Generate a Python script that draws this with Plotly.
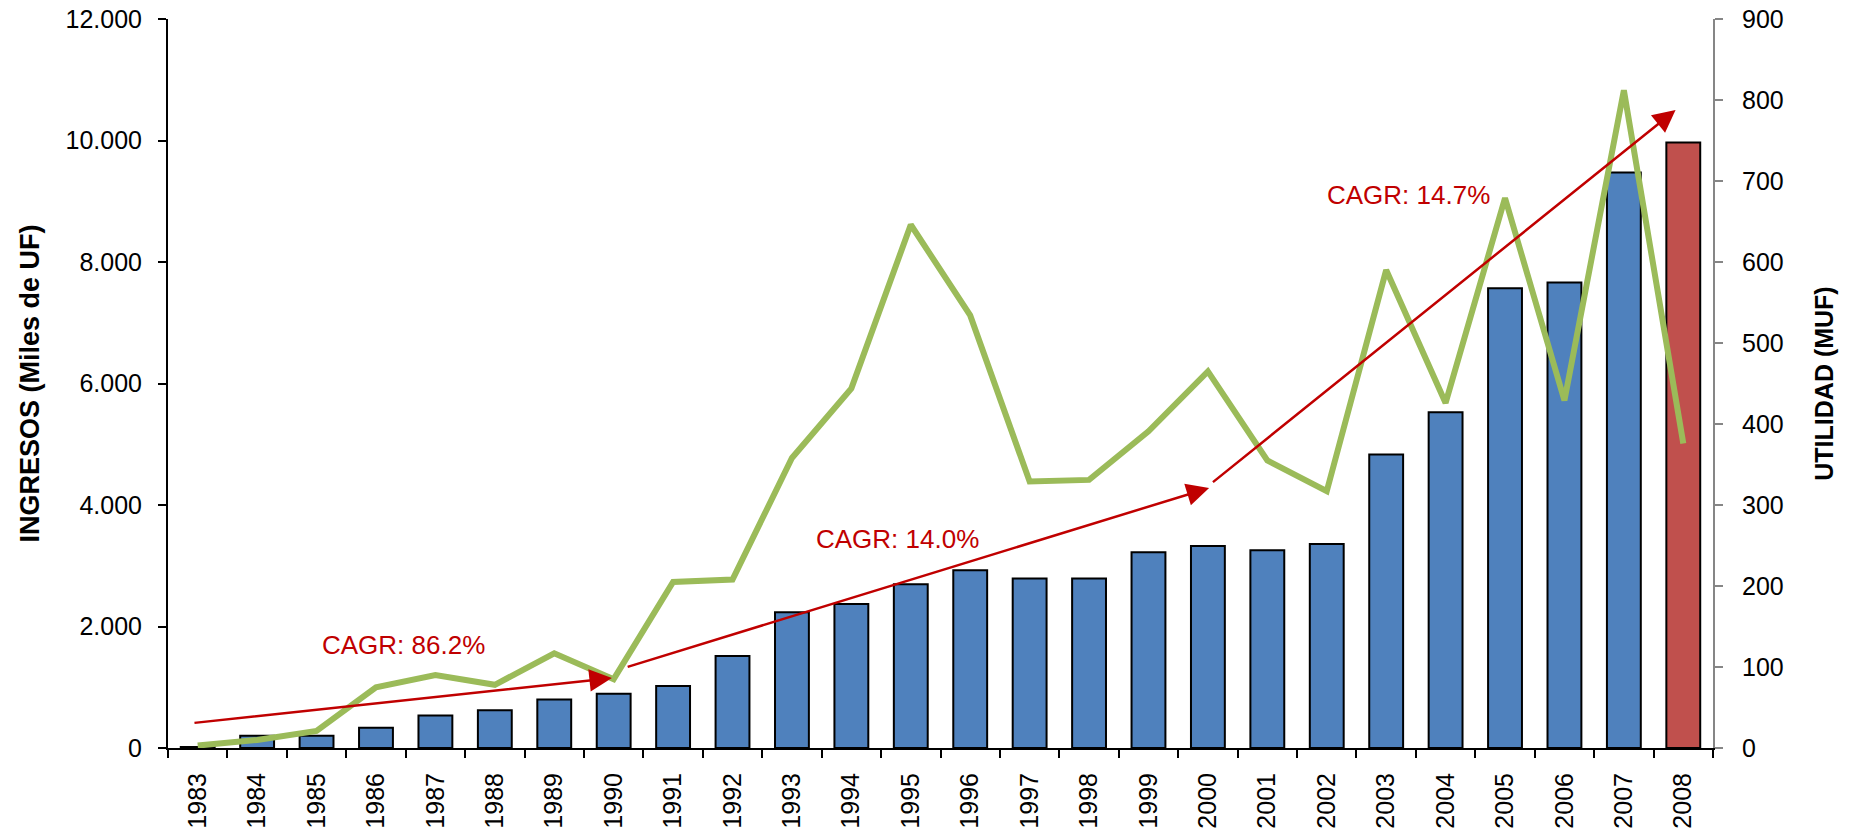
import plotly.graph_objects as go

years = [str(y) for y in range(1983, 2009)]
ingresos = [15, 200, 200, 335, 534, 622, 797, 893, 1021, 1515, 2233, 2369, 2696,
            2927, 2791, 2791, 3222, 3326, 3254, 3357, 4833, 5527, 7568, 7664, 9474, 9969]
utilidad = [3, 10, 21, 75, 90, 78, 117, 85, 205, 208, 358, 444, 646,
            534, 329, 331, 391, 465, 355, 317, 590, 426, 679, 429, 812, 376]
bar_colors = ["#4F81BD"] * 25 + ["#C0504D"]

left_ticks = [0, 2000, 4000, 6000, 8000, 10000, 12000]
left_ticktext = ["0", "2.000", "4.000", "6.000", "8.000", "10.000", "12.000"]
right_ticks = [0, 100, 200, 300, 400, 500, 600, 700, 800, 900]

# CAGR arrows: (start index, start value, end index, end value) on the left axis
arrows = [
    (-0.08, 411, 6.97, 1152),
    (7.21, 1328, 17.02, 4280),
    (17.06, 4357, 24.87, 10502),
]
labels = ["CAGR: 86.2%", "CAGR: 14.0%", "CAGR: 14.7%"]
label_pos = [(3.46, 1695), (11.77, 3440), (20.37, 9103)]

FONT = "Liberation Sans, Arial, sans-serif"
RED = "#C00000"

fig = go.Figure()
fig.add_trace(go.Bar(
    x=years, y=ingresos, marker=dict(color=bar_colors, line=dict(color="black", width=2)),
    yaxis="y", showlegend=False,
))
fig.add_trace(go.Scatter(
    x=years, y=utilidad, mode="lines", line=dict(color="#9BBB59", width=6),
    yaxis="y2", showlegend=False,
))

annotations = []
for (x0, y0, x1, y1) in arrows:
    annotations.append(dict(
        x=x1, y=y1, ax=x0, ay=y0, xref="x", yref="y", axref="x", ayref="y",
        text="", showarrow=True, arrowhead=2, arrowsize=1.8, arrowwidth=2.5,
        arrowcolor=RED, standoff=0,
    ))
for txt, (lx, ly) in zip(labels, label_pos):
    annotations.append(dict(
        x=lx, y=ly, xref="x", yref="y", text=txt, showarrow=False,
        font=dict(family=FONT, size=26, color=RED),
    ))

fig.update_layout(
    width=1851, height=833,
    margin=dict(l=168, r=138, t=19, b=85),
    plot_bgcolor="white", paper_bgcolor="white",
    bargap=0.43,
    font=dict(family=FONT, size=25, color="black"),
    annotations=annotations,
    xaxis=dict(
        type="category", tickangle=-90, showline=True, linecolor="black", linewidth=2,
        ticks="outside", tickson="boundaries", ticklen=8, tickwidth=2, tickcolor="black",
        showgrid=False, ticklabelstandoff=13, tickfont=dict(size=25), automargin=False,
        ticklabeloverflow="allow",
    ),
    yaxis=dict(
        range=[0, 12000], tickvals=left_ticks, ticktext=left_ticktext,
        showline=True, linecolor="black", linewidth=2, ticks="outside", ticklen=8,
        tickwidth=2, tickcolor="black", showgrid=False, zeroline=False,
        ticklabelstandoff=11, tickfont=dict(size=25), automargin=False,
        ticklabeloverflow="allow",
        title=dict(text="INGRESOS (Miles de UF)", standoff=18,
                   font=dict(family=FONT, size=27, weight="bold")),
    ),
    yaxis2=dict(
        range=[0, 900], tickvals=right_ticks, overlaying="y", side="right",
        showline=True, linecolor="#868686", linewidth=2, ticks="outside", ticklen=8,
        tickwidth=2, tickcolor="#868686", showgrid=False, zeroline=False,
        ticklabelstandoff=14, tickfont=dict(size=25), automargin=False,
        ticklabeloverflow="allow",
        title=dict(text="UTILIDAD (MUF)", standoff=33,
                   font=dict(family=FONT, size=25, weight="bold")),
    ),
)

fig.write_html(
    "out.html",
    config={"displayModeBar": False},
    post_script="document.body.style.margin='0';document.body.style.overflow='hidden';",
)
